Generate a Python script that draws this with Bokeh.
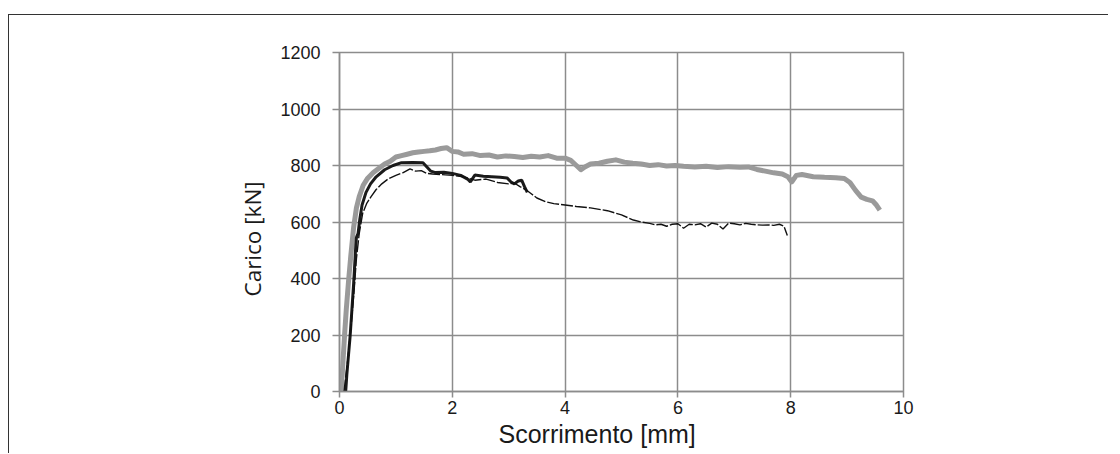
from bokeh.plotting import figure
from bokeh.models import Range1d, FixedTicker, Title
from bokeh.embed import file_html
from bokeh.resources import INLINE

# ---- data ----
gray_x = [0.03, 0.06, 0.09, 0.12, 0.16, 0.2, 0.25, 0.3, 0.35, 0.42, 0.5, 0.6, 0.7, 0.8, 0.9, 1.0,
          1.1, 1.2, 1.3, 1.4, 1.5, 1.6, 1.7, 1.8, 1.9, 2.0, 2.1, 2.2, 2.35, 2.5, 2.65, 2.8, 2.95,
          3.1, 3.25, 3.4, 3.55, 3.7, 3.85, 4.0, 4.1, 4.2, 4.28, 4.35, 4.45, 4.6, 4.75, 4.9, 5.05,
          5.2, 5.35, 5.5, 5.65, 5.8, 5.95, 6.1, 6.3, 6.5, 6.7, 6.9, 7.1, 7.25, 7.4, 7.55, 7.7,
          7.85, 7.95, 8.02, 8.1, 8.2, 8.4, 8.6, 8.8, 8.95, 9.05, 9.15, 9.25, 9.35, 9.45, 9.52, 9.58]
gray_y = [0, 100, 200, 290, 390, 480, 580, 650, 690, 730, 755, 775, 790, 805, 815, 830,
          835, 840, 845, 848, 850, 852, 855, 860, 863, 850, 848, 840, 842, 835, 837, 830, 834,
          832, 828, 833, 830, 835, 826, 826, 818, 800, 785, 795, 805, 808, 815, 820, 812,
          808, 805, 800, 803, 798, 800, 797, 795, 797, 793, 796, 794, 795, 786, 780, 774,
          770, 760, 742, 765, 768, 760, 758, 757, 754, 740, 712, 688, 680, 675, 660, 642]

black_x = [0.11, 0.13, 0.16, 0.19, 0.22, 0.25, 0.27, 0.29, 0.3, 0.33, 0.36, 0.4, 0.47, 0.55,
           0.65, 0.8, 0.95, 1.1, 1.3, 1.48, 1.55, 1.62, 1.7, 1.85, 2.0, 2.15, 2.27, 2.32, 2.4,
           2.55, 2.7, 2.85, 2.97, 3.05, 3.1, 3.17, 3.23, 3.28, 3.33]
black_y = [0, 60, 130, 200, 290, 380, 450, 520, 545, 560, 610, 660, 705, 735,
           760, 785, 800, 810, 811, 810, 795, 780, 775, 776, 772, 765, 752, 742, 766,
           762, 760, 758, 756, 740, 735, 745, 748, 725, 705]

thin_x = [0.08, 0.14, 0.2, 0.26, 0.3, 0.35, 0.41, 0.48, 0.56, 0.65, 0.75, 0.86, 1.0, 1.13,
          1.25, 1.35, 1.45, 1.55, 1.65, 1.8, 2.0, 2.2, 2.4, 2.6, 2.8, 3.0, 3.1, 3.2, 3.3, 3.4,
          3.5, 3.65, 3.8, 4.0, 4.2, 4.45, 4.75, 5.0, 5.21, 5.35, 5.5, 5.6, 5.7, 5.8, 5.9, 6.0,
          6.1, 6.2, 6.3, 6.4, 6.5, 6.6, 6.7, 6.8, 6.9, 7.0, 7.1, 7.2, 7.3, 7.4, 7.5, 7.6, 7.7,
          7.8, 7.88, 7.94]
thin_y = [0, 100, 220, 360, 470, 560, 630, 665, 690, 715, 735, 752, 765, 775,
          788, 780, 782, 772, 770, 768, 765, 760, 748, 752, 740, 735, 738, 725, 715, 700,
          685, 672, 665, 660, 655, 650, 640, 625, 607, 600, 595, 590, 592, 585, 592, 594,
          578, 592, 590, 594, 582, 596, 592, 575, 596, 594, 590, 595, 592, 590, 589, 590, 588,
          592, 585, 552]

x_ticks = [0, 2, 4, 6, 8, 10]
y_ticks = [0, 200, 400, 600, 800, 1000, 1200]
x_label = "Scorrimento [mm]"
y_label = "Carico [kN]"

# figure box starts at page (8, 14) with a thin top/left border
OX, OY = 8, 14
W, H = 1100, 439
ML = 340 - OX - 2
MT = 52 - OY - 1
MR = (OX + W) - 902
MB = (OY + H) - 390

p = figure(width=W, height=H, output_backend="svg", toolbar_location=None,
           x_range=Range1d(0, 10), y_range=Range1d(0, 1200),
           min_border_left=ML, min_border_right=MR, min_border_top=MT, min_border_bottom=MB)
p.margin = (OY, 0, 0, OX)
p.styles = {"border-top": "1px solid #333333", "border-left": "1px solid #333333"}
p.background_fill_color = "white"
p.border_fill_color = "white"
p.outline_line_color = "#8c8c8c"
p.outline_line_width = 1.5

GRID = "#8c8c8c"
for ax, ticks in ((p.xaxis, x_ticks), (p.yaxis, y_ticks)):
    ax.ticker = FixedTicker(ticks=ticks)
    ax.axis_line_color = GRID
    ax.axis_line_width = 1.5
    ax.major_tick_line_color = GRID
    ax.major_tick_line_width = 1.5
    ax.major_tick_in = 0
    ax.minor_tick_line_color = None
    ax.major_label_text_font = "Liberation Sans"
    ax.major_label_text_font_size = "18px"
    ax.major_label_text_color = "#1a1a1a"
p.xaxis.major_tick_out = 6
p.yaxis.major_tick_out = 7
p.xaxis.major_label_standoff = 3
p.yaxis.major_label_standoff = 12

p.xgrid.ticker = FixedTicker(ticks=x_ticks)
p.ygrid.ticker = FixedTicker(ticks=y_ticks)
p.grid.grid_line_color = GRID
p.grid.grid_line_width = 1.5

p.line(gray_x, gray_y, line_color="#9a9a9a", line_width=5, line_join="round")
p.line(black_x, black_y, line_color="#1a1a1a", line_width=3)
p.line(thin_x, thin_y, line_color="#111111", line_width=1.4, line_dash="12 2")

p.add_layout(Title(text=x_label, align="left", offset=499 - 340, standoff=2,
                   text_font="Liberation Sans", text_font_size="25px",
                   text_font_style="normal", text_color="#1a1a1a"), "below")
p.add_layout(Title(text=y_label, align="left", offset=390 - 295, standoff=20,
                   text_font="Open Sans", text_font_size="22.5px",
                   text_font_style="normal", text_color="#1a1a1a"), "left")

open("out.html", "w").write(file_html(p, INLINE))
